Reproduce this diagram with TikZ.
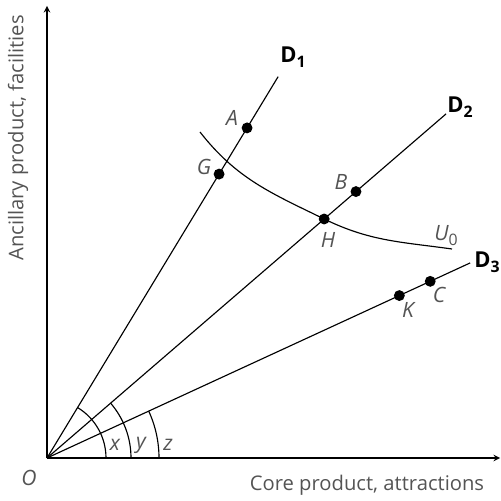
\documentclass[tikz,border=0pt]{standalone}
\usepackage{fontspec}
\setmainfont{Open Sans}
\usetikzlibrary{arrows,positioning}
\definecolor{labgray}{gray}{0.33}
\newcommand{\dsub}[1]{\textbf{D}\raisebox{-0.45ex}{\small\textbf{#1}}}

\begin{document}
\begin{tikzpicture}[
  x=0.02cm, y=0.02cm,
  ray/.style={line width=0.65pt},
  dot/.style={circle, fill=black, inner sep=0pt, minimum size=6.2pt},
  plab/.style={font=\itshape\fontsize{12}{14}\selectfont, text=labgray, inner sep=1pt},
  dlab/.style={font=\fontsize{12.5}{14}\selectfont, inner sep=0pt},
  axlab/.style={font=\fontsize{11.5}{14}\selectfont, text=labgray, inner sep=0pt},
  >=stealth
]
\useasboundingbox (-47,-43) rectangle (454,458);

% axes
\coordinate (O) at (0,0);
\coordinate (ytop) at (0,452);
\coordinate (xend) at (453,0);
\draw[->, ray] (O) -- (ytop);
\draw[->, ray] (O) -- (xend);
\node[axlab, rotate=90] (ylab) at (-29,320) {Ancillary product, facilities};
\node[axlab] (xlab) at (320,-27) {Core product, attractions};
\node[plab] (lO) at (-18,-20) {O};

% rays
\coordinate (d1) at (58.78:446);
\coordinate (d2) at (40.77:527);
\coordinate (d3) at (24.75:466);
\draw[ray] (O) -- (d1);
\draw[ray] (O) -- (d2);
\draw[ray] (O) -- (d3);
\node[dlab] (lD1) at (246,401) {\dsub{1}};
\node[dlab] (lD2) at (413,351) {\dsub{2}};
\node[dlab, anchor=east] (lD3) at (453,196) {\dsub{3}};

% angles
\draw[ray] (59,0) arc[start angle=0, end angle=58.78, radius=59];
\draw[ray] (84,0) arc[start angle=0, end angle=40.77, radius=84];
\draw[ray] (112,0) arc[start angle=0, end angle=24.75, radius=112];
\node[plab] (lx) at (68,13) {x};
\node[plab] (ly) at (94,13) {y};
\node[plab] (lz) at (121,13) {z};

% points
\node[dot] (A) at (58.78:386) {};
\node[dot] (G) at (58.78:332) {};
\node[dot] (B) at (40.77:408) {};
\node[dot] (H) at (40.77:366) {};
\node[dot] (K) at (24.75:388) {};
\node[dot] (C) at (24.75:422) {};

% indifference curve
\coordinate (u0s) at (153,326);
\coordinate (u0e) at (405,209);
\draw[ray] (u0s) to[out=-52, in=154] (H.center) to[out=-26, in=172] (u0e);
\node[plab] (lU) at (399,222) {U\raisebox{-0.45ex}{\small\upshape 0}};

\node[plab] (lA) at (185,340) {A};
\node[plab] (lG) at (157,291) {G};
\node[plab] (lB) at (294,276) {B};
\node[plab] (lH) at (281,218) {H};
\node[plab] (lK) at (361,148) {K};
\node[plab] (lC) at (392,163) {C};
\end{tikzpicture}
\end{document}
